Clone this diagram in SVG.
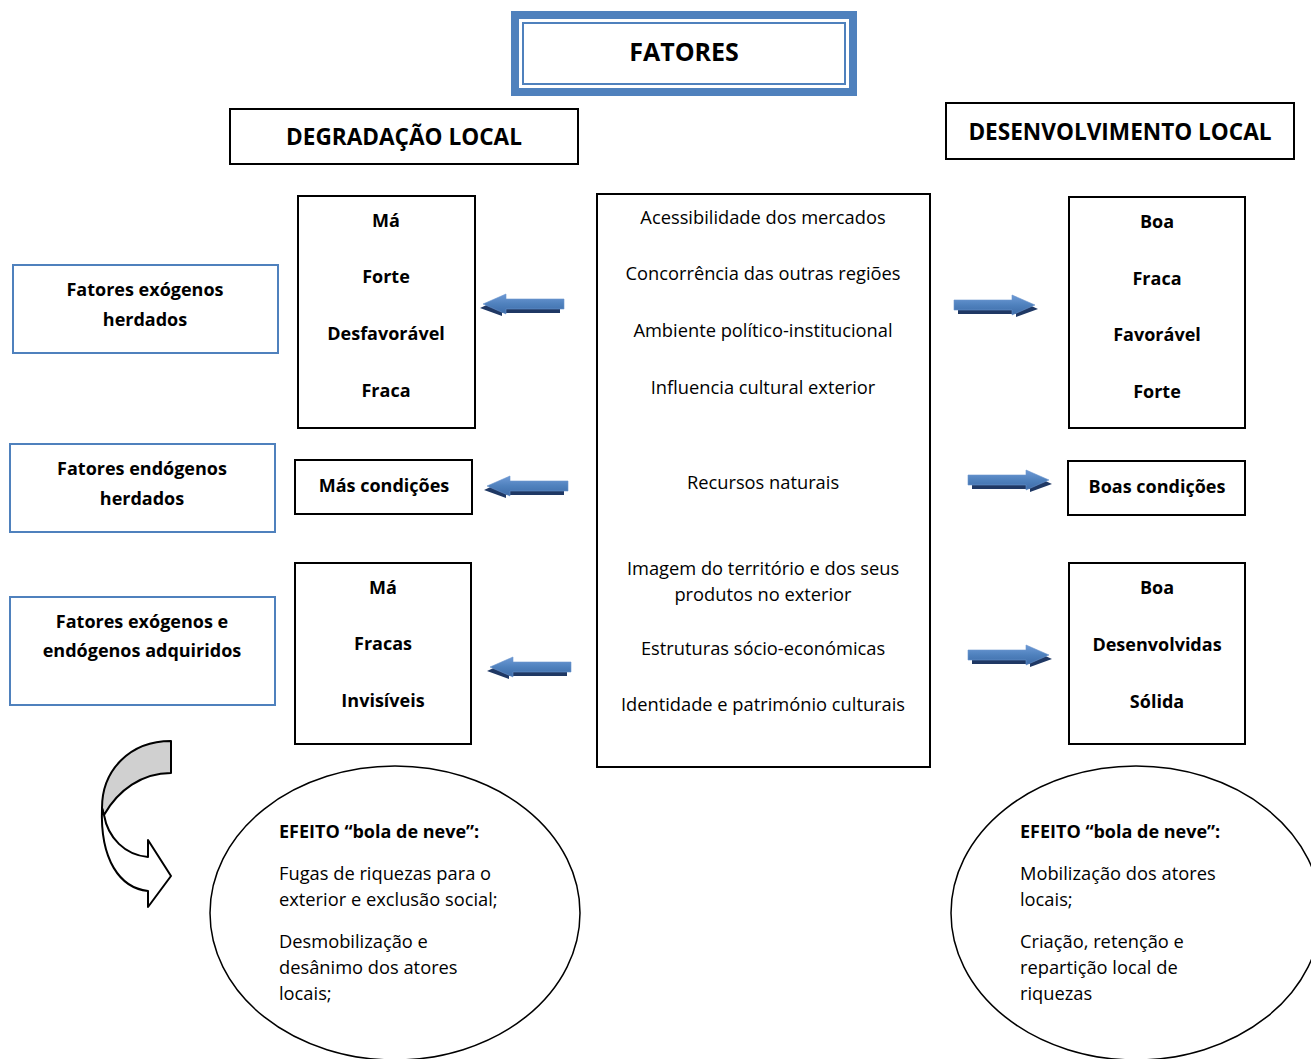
<svg xmlns="http://www.w3.org/2000/svg" width="1311" height="1059" viewBox="0 0 1311 1059">
<style>
text{font-family:"Open Sans","Liberation Sans",sans-serif;fill:#000}
.b{font-weight:bold;font-size:18px}
.r{font-size:18.3px}
.h{font-weight:bold;font-size:22.6px}
.box{fill:#fff;stroke:#000;stroke-width:2}
.bbox{fill:#fff;stroke:#4F81BD;stroke-width:2}
</style>
<defs>
<linearGradient id="ag" x1="0" y1="0" x2="0" y2="1">
<stop offset="0" stop-color="#6E9AD6"/>
<stop offset="0.5" stop-color="#4F81BD"/>
<stop offset="1" stop-color="#3D6BA8"/>
</linearGradient>
<g id="arr">
<path d="M4,-1 H62 V-6 L84,4 L62,12 V9 H4 Z" fill="#1F3864"/>
<path d="M0,-5 H58 V-10 L81,0 L58,10 V5 H0 Z" fill="url(#ag)" stroke="#6A94CC" stroke-width="0.6"/>
</g>
</defs>

<g id="fatores">
<rect x="515" y="15" width="338" height="77" fill="#fff" stroke="#4F81BD" stroke-width="8"/>
<rect x="523" y="23" width="322" height="61" fill="none" stroke="#4F81BD" stroke-width="2"/>
<text x="684" y="61" text-anchor="middle" style="font-weight:bold;font-size:25px">FATORES</text>
</g>

<g id="degradacao">
<rect class="box" x="230" y="109" width="348" height="55"/>
<text class="h" x="404" y="145" text-anchor="middle">DEGRADAÇÃO LOCAL</text>
</g>
<g id="desenvolvimento">
<rect class="box" x="946" y="103" width="348" height="56"/>
<text class="h" x="1120" y="140" text-anchor="middle">DESENVOLVIMENTO LOCAL</text>
</g>

<g id="exog">
<rect class="bbox" x="13" y="265" width="265" height="88"/>
<text class="b" x="145" y="296" text-anchor="middle">Fatores exógenos</text>
<text class="b" x="145" y="326" text-anchor="middle">herdados</text>
</g>
<g id="endog">
<rect class="bbox" x="10" y="444" width="265" height="88"/>
<text class="b" x="142" y="475" text-anchor="middle">Fatores endógenos</text>
<text class="b" x="142" y="505" text-anchor="middle">herdados</text>
</g>
<g id="adquiridos">
<rect class="bbox" x="10" y="597" width="265" height="108"/>
<text class="b" x="142" y="628" text-anchor="middle">Fatores exógenos e</text>
<text class="b" x="142" y="657" text-anchor="middle">endógenos adquiridos</text>
</g>

<g id="left1">
<rect class="box" x="298" y="196" width="177" height="232"/>
<text class="b" x="386" y="227" text-anchor="middle">Má</text>
<text class="b" x="386" y="283" text-anchor="middle">Forte</text>
<text class="b" x="386" y="340" text-anchor="middle">Desfavorável</text>
<text class="b" x="386" y="397" text-anchor="middle">Fraca</text>
</g>
<g id="left2">
<rect class="box" x="295" y="460" width="177" height="54"/>
<text class="b" x="384" y="492" text-anchor="middle">Más condições</text>
</g>
<g id="left3">
<rect class="box" x="295" y="563" width="176" height="181"/>
<text class="b" x="383" y="594" text-anchor="middle">Má</text>
<text class="b" x="383" y="650" text-anchor="middle">Fracas</text>
<text class="b" x="383" y="707" text-anchor="middle">Invisíveis</text>
</g>

<g id="center">
<rect class="box" x="597" y="194" width="333" height="573"/>
<text class="r" x="763" y="224" text-anchor="middle">Acessibilidade dos mercados</text>
<text class="r" x="763" y="280" text-anchor="middle">Concorrência das outras regiões</text>
<text class="r" x="763" y="337" text-anchor="middle">Ambiente político-institucional</text>
<text class="r" x="763" y="394" text-anchor="middle">Influencia cultural exterior</text>
<text class="r" x="763" y="489" text-anchor="middle">Recursos naturais</text>
<text class="r" x="763" y="575" text-anchor="middle">Imagem do território e dos seus</text>
<text class="r" x="763" y="601" text-anchor="middle">produtos no exterior</text>
<text class="r" x="763" y="655" text-anchor="middle">Estruturas sócio-económicas</text>
<text class="r" x="763" y="711" text-anchor="middle">Identidade e património culturais</text>
</g>

<g id="right1">
<rect class="box" x="1069" y="197" width="176" height="231"/>
<text class="b" x="1157" y="228" text-anchor="middle">Boa</text>
<text class="b" x="1157" y="285" text-anchor="middle">Fraca</text>
<text class="b" x="1157" y="341" text-anchor="middle">Favorável</text>
<text class="b" x="1157" y="398" text-anchor="middle">Forte</text>
</g>
<g id="right2">
<rect class="box" x="1068" y="461" width="177" height="54"/>
<text class="b" x="1157" y="493" text-anchor="middle">Boas condições</text>
</g>
<g id="right3">
<rect class="box" x="1069" y="563" width="176" height="181"/>
<text class="b" x="1157" y="594" text-anchor="middle">Boa</text>
<text class="b" x="1157" y="651" text-anchor="middle">Desenvolvidas</text>
<text class="b" x="1157" y="708" text-anchor="middle">Sólida</text>
</g>

<g id="connectors">
<use href="#arr" transform="translate(564,304) scale(-1,1)"/>
<use href="#arr" transform="translate(568,486) scale(-1,1)"/>
<use href="#arr" transform="translate(571,667) scale(-1,1)"/>
<use href="#arr" transform="translate(954,305)"/>
<use href="#arr" transform="translate(968,480)"/>
<use href="#arr" transform="translate(968,655)"/>
<g id="curved-arrow" stroke="#000" stroke-width="2" stroke-linejoin="round">
<path d="M171,741 C130,741 102,770 102,808 L104,815 C118,790 142,773 171,773 Z" fill="#D0D0D0"/>
<path d="M102,808 C100,860 120,888 148,891 L148,907 L171,876 L148,840 L148,857 C125,855 108,838 104,815 Z" fill="#fff"/>
</g>
</g>

<g id="effect-left">
<ellipse cx="395" cy="913" rx="185" ry="147" fill="#fff" stroke="#000" stroke-width="1.5"/>
<text class="b" x="279" y="838">EFEITO “bola de neve”:</text>
<text class="r" x="279" y="880">Fugas de riquezas para o</text>
<text class="r" x="279" y="906">exterior e exclusão social;</text>
<text class="r" x="279" y="948">Desmobilização e</text>
<text class="r" x="279" y="974">desânimo dos atores</text>
<text class="r" x="279" y="1000">locais;</text>
</g>
<g id="effect-right">
<ellipse cx="1136" cy="913" rx="185" ry="147" fill="#fff" stroke="#000" stroke-width="1.5"/>
<text class="b" x="1020" y="838">EFEITO “bola de neve”:</text>
<text class="r" x="1020" y="880">Mobilização dos atores</text>
<text class="r" x="1020" y="906">locais;</text>
<text class="r" x="1020" y="948">Criação, retenção e</text>
<text class="r" x="1020" y="974">repartição local de</text>
<text class="r" x="1020" y="1000">riquezas</text>
</g>
</svg>
